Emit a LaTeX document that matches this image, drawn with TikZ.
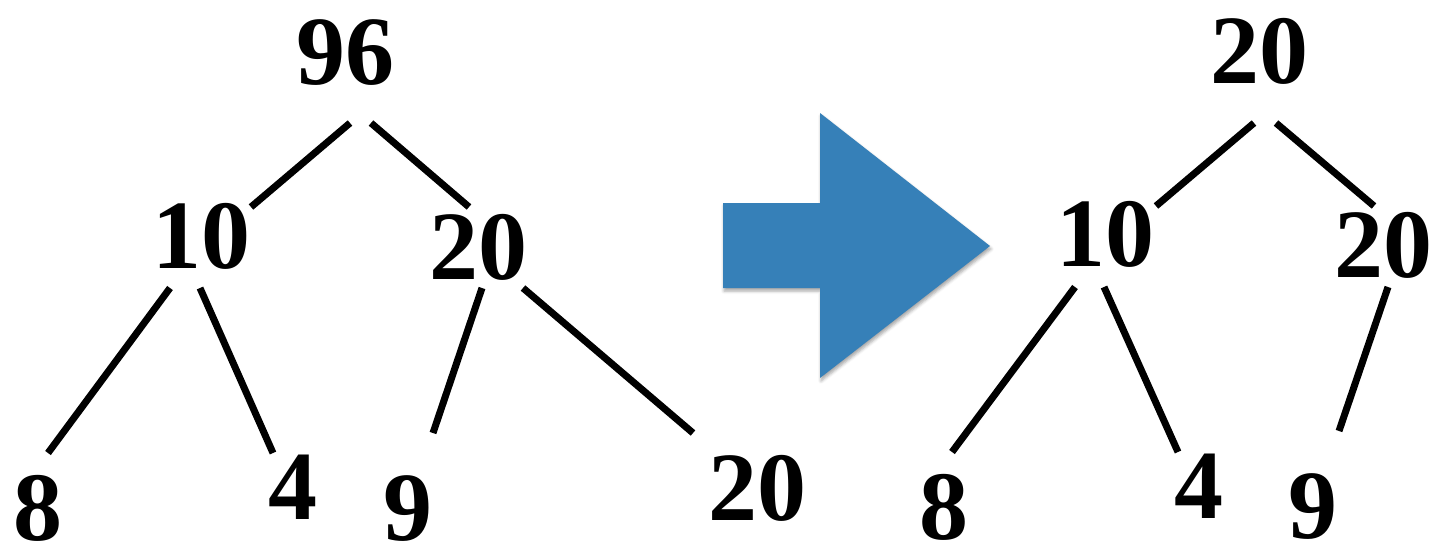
\documentclass[tikz,border=0pt]{standalone}
\usepackage{fontspec}
\setmainfont{Liberation Serif}
\usetikzlibrary{shadows.blur}
\definecolor{arrowblue}{RGB}{54,128,184}
\begin{document}
\begin{tikzpicture}[x=1pt,y=-1pt,
  key/.style={inner sep=0pt,anchor=base,font=\fontsize{98}{98}\selectfont\bfseries},
  edge/.style={line width=7pt,black}]
\useasboundingbox (0,0) rectangle (1429,542);

% ---- heap before removing the root ----
\node[key] (a96) at (345,84) {96};
\node[key] (a10) at (201,268) {10};
\node[key] (a20) at (478,279) {20};
\node[key] (a8)  at (38,540)  {8};
\node[key] (a4)  at (293,519) {4};
\node[key] (a9)  at (408,540) {9};
\node[key] (a20b) at (757,520) {20};

\coordinate (a96l) at (350,123);  \coordinate (a10u) at (251,207);
\coordinate (a96r) at (371,123);  \coordinate (a20u) at (469,207);
\coordinate (a10l) at (170,288);  \coordinate (a8u)  at (48,453);
\coordinate (a10r) at (200,288);  \coordinate (a4u)  at (273,453);
\coordinate (a20l) at (482,288);  \coordinate (a9u)  at (433,433);
\coordinate (a20r) at (523,288);  \coordinate (a20bu) at (693,433);

\draw[edge] (a96l) -- (a10u);
\draw[edge] (a96r) -- (a20u);
\draw[edge] (a10l) -- (a8u);
\draw[edge] (a10r) -- (a4u);
\draw[edge] (a20l) -- (a9u);
\draw[edge] (a20r) -- (a20bu);

% ---- transition arrow ----
\fill[arrowblue,blur shadow={shadow xshift=1pt,shadow yshift=-3pt,shadow blur radius=3pt,shadow opacity=35}]
  (723,203) -- (820,203) -- (820,113) -- (990,246) -- (820,378) -- (820,288) -- (723,288) -- cycle;

% ---- heap after the last leaf moved to the root ----
\node[key] (b20) at (1259,83) {20};
\node[key] (b10) at (1105,266) {10};
\node[key] (b20r) at (1383,277) {20};
\node[key] (b8)  at (944,539) {8};
\node[key] (b4)  at (1199,518) {4};
\node[key] (b9)  at (1313,538) {9};

\coordinate (b20l) at (1254,123); \coordinate (b10u) at (1156,206);
\coordinate (b20m) at (1276,123); \coordinate (b20ru) at (1374,206);
\coordinate (b10l) at (1075,287); \coordinate (b8u)  at (952,452);
\coordinate (b10r) at (1104,287); \coordinate (b4u)  at (1178,452);
\coordinate (b20rl) at (1388,287); \coordinate (b9u) at (1339,431);

\draw[edge] (b20l) -- (b10u);
\draw[edge] (b20m) -- (b20ru);
\draw[edge] (b10l) -- (b8u);
\draw[edge] (b10r) -- (b4u);
\draw[edge] (b20rl) -- (b9u);
\end{tikzpicture}
\end{document}
